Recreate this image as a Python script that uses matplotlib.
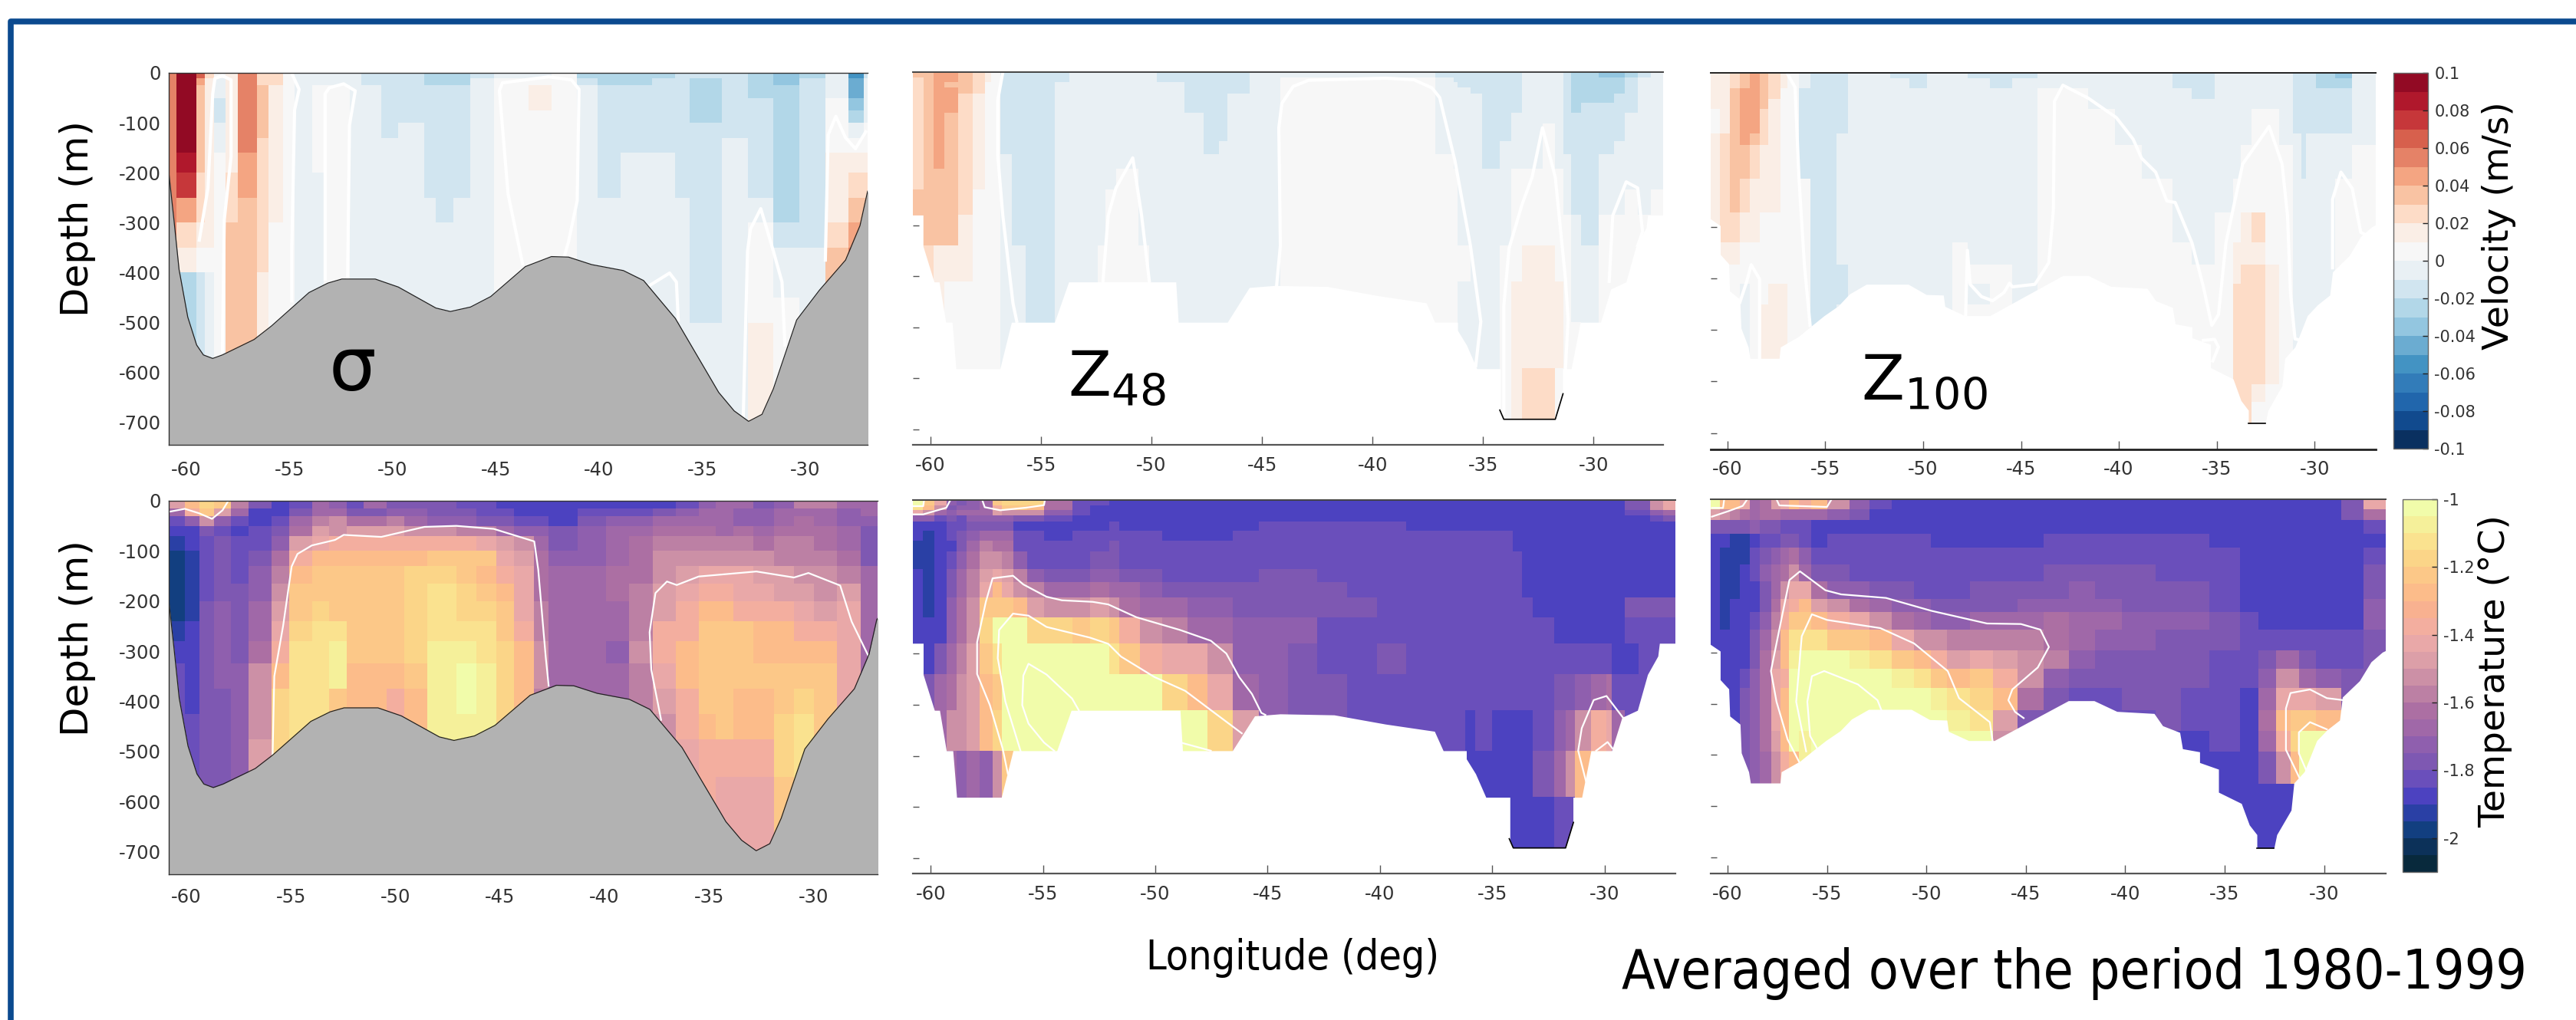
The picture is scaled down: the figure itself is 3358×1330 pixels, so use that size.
import numpy as np
import matplotlib
matplotlib.use('Agg')
import matplotlib.pyplot as plt
from matplotlib.colors import ListedColormap, BoundaryNorm
from matplotlib.cm import ScalarMappable
from matplotlib.lines import Line2D

W, H = 3358, 1330

# colour tables, lowest bin first
vel_colors = ['#0a3060', '#114a8e', '#2166ac', '#327cb9', '#4393c3', '#6bacd1', '#93c6e0', '#b2d7e8', '#d1e5f0', '#e9f0f4',
              '#f7f7f7', '#faeee6', '#fddcc7', '#f9c3a3', '#f4a582', '#e58267', '#d7604d', '#c6373a', '#b0182c', '#920a24']
temp_colors = ['#08293c', '#0c3159', '#123f80', '#2a40a5', '#4c42c0', '#6a4fbb', '#7e58b2', '#8f5fae', '#a068a8', '#ac6fa3', '#bc80a4',
               '#cc90a6', '#dc9fa8', '#e9a8a8', '#f3ae9f', '#f8b190', '#fcbc8a', '#fcc888', '#fbd588', '#fae28f', '#f5f09a', '#f1fcaa']
vel_ticks = [-0.1, -0.08, -0.06, -0.04, -0.02, 0, 0.02, 0.04, 0.06, 0.08, 0.1]
vel_labels = ['-0.1', '-0.08', '-0.06', '-0.04', '-0.02', '0', '0.02', '0.04', '0.06', '0.08', '0.1']
temp_ticks = [-2, -1.8, -1.6, -1.4, -1.2, -1]
temp_labels = ['-2', '-1.8', '-1.6', '-1.4', '-1.2', '-1']
lon_ticks = [-60, -55, -50, -45, -40, -35, -30]
lon_labels = ['-60', '-55', '-50', '-45', '-40', '-35', '-30']
depth_ticks = [0, -100, -200, -300, -400, -500, -600, -700]
depth_labels = ['0', '-100', '-200', '-300', '-400', '-500', '-600', '-700']
z_ticks = [-300, -400, -500, -600, -700]

# sea floor, sigma panels
floor_lon = [-60.9, -60.85, -60.6, -60.35, -59.93, -59.5, -59.17, -58.72, -58.25, -56.71, -55.87, -54.05, -53.13, -52.46, -50.84, -49.72, -47.9, -47.2,
             -46.22, -45.24, -43.56, -42.3, -41.47, -40.35, -38.81, -37.83, -36.29, -34.19, -33.44, -32.74, -32.09, -31.54, -30.41, -29.3, -28.04, -27.34, -26.97, -26.85]
floor_z = [199, 199, 294, 394, 489, 545, 565, 572, 565, 534, 507, 440, 421, 413, 413, 429, 471, 478,
           469, 448, 388, 368, 369, 384, 396, 416, 492, 640, 677, 698, 684, 633, 495, 435, 375, 306, 237, 230]

# lowest wet edge of the z48 grid
z48_lon = [-60.9, -60.34, -60.34, -59.84, -59.61, -59.31, -59.02, -58.85, -56.86, -56.34, -54.39, -53.75, -48.9, -48.79, -46.57, -45.58, -44.44, -42.04, -39.75, -37.57,
           -37.18, -36.15, -36.15, -35.74, -35.28, -34.21, -34.21, -34.07, -31.74, -31.4, -31.4, -31.01, -30.6, -29.68, -29.22, -28.53, -28.08, -27.62, -27.55, -26.8]
z48_z = [280, 280, 341, 411, 411, 490, 490, 581, 581, 490, 490, 411, 411, 490, 490, 422, 418, 420, 438, 452,
         490, 490, 506, 535, 581, 581, 664, 680, 680, 630, 581, 581, 490, 490, 425, 411, 341, 305, 280, 280]

# lowest wet edge of the z100 grid
z100_lon = [-60.9, -60.37, -60.37, -59.94, -59.89, -59.37, -59.31, -58.94, -58.85, -57.36, -57.3, -56.35, -55.78, -55.06, -54.34, -53.77, -52.91, -50.76, -49.84, -48.97, -48.89,
            -47.88, -46.59, -44.44, -42.86, -41.57, -40.42, -38.55, -38.12, -37.26, -37.12, -36.26, -36.26, -35.31, -35.31, -34.16, -33.76, -33.38, -33.38, -32.52, -32.38, -31.66,
            -31.52, -31, -30.37, -29.85, -29.22, -29.08, -28.22, -27.64, -27.07, -26.8]
z100_z = [283, 297, 353, 371, 424, 440, 496, 533, 555, 555, 533, 512, 494, 472, 453, 430, 411, 411, 431, 432, 454,
          472, 472, 427, 394, 394, 415, 419, 443, 456, 488, 494, 515, 528, 573, 595, 637, 656, 682, 682, 656, 608,
          555, 533, 472, 451, 432, 387, 355, 318, 299, 294]

# velocity in cm/s, each number is the lower edge of a 1 cm/s bin, one list per longitude column, top to bottom
vel_sigma_lon = [-60.85, -60.49, -59.51, -59.09, -58.67, -58.11, -57.49, -56.57, -56.01, -55.31, -54.75, -53.91, -53.35, -52.09, -51.53, -50.56, -49.72, -48.46, -47.9, -47.06, -46.22,
                 -45.1, -43.42, -42.3, -41.05, -40.07, -38.95, -37.41, -36.29, -35.59, -34.05, -32.79, -31.54, -30.28, -29.02, -27.9, -27.15, -26.85]
vel_sigma_z = [0, 10, 25, 50, 75, 100, 130, 160, 200, 250, 300, 350, 400, 450, 500, 750]
vel_sigma = [
    [5]*10,
    [9, 9, 9, 9, 9, 9, 9, 8, 7, 4, 2, 1, -3, -3, -3],
    [6, 4, 3, 3, 3, 3, 3, 3, 2, 2, 1, 0, -2, -2, -2],
    [2, 1, 1, 1, 1, 1, 1, 1, 1, 1, 1, 0, -1, -1, -1],
    [0, -1, -1, -2, -2, -1, -1, 0, 0],
    [1, 1, 1, 1, 1, 1, 1, 1, 2, 2, 3, 3, 3, 3, 3],
    [5, 5, 5, 5, 5, 5, 5, 4, 4, 3, 3, 3, 3, 3, 3],
    [2, 2, 3, 3, 3, 3, 2, 2, 2, 2, 2, 2, 1, 1, 1],
    [2, 2, 1, 1, 1, 1, 1, 1, 1, 1, 0],
    [0],
    [-1],
    [-1, -1, 0, 0, 0, 0, 0, 0, -1],
    [-1, -1, 0],
    [-1],
    [-2, -2, -1],
    [-2, -2, -2, -2, -2, -2, -1],
    [-2, -2, -2, -2, -2, -1],
    [-3, -3, -2, -2, -2, -2, -2, -2, -2, -1],
    [-3, -3, -2, -2, -2, -2, -2, -2, -2, -2, -1],
    [-3, -3, -2, -2, -2, -2, -2, -2, -2, -1],
    [-2, -1],
    [-1, 0],
    [-1, 0, 1, 1, 0],
    [0],
    [-3, -2, -1],
    [-3, -3, -2, -2, -2, -2, -2, -2, -2, -1],
    [-3, -3, -2, -2, -2, -2, -2, -1],
    [-3, -2, -2, -2, -2, -2, -2, -1],
    [-2, -2, -2, -2, -2, -2, -2, -2, -2, -1],
    [-2, -3, -3, -3, -3, -2, -2, -2, -2, -2, -2, -2, -2, -2, -1],
    [-2, -2, -2, -2, -2, -2, -1],
    [-3, -3, -3, -2, -2, -2, -2, -2, -2, -1, 0, 0, 0, 0, 1],
    [-4, -4, -3, -3, -3, -3, -3, -3, -3, -3, -2, -1, -1, 0],
    [-3, -2, -2, -2, -2, -2, -2, -2, -2, -2, -2, -1],
    [-1, -1, -1, 0, 0, 0, 0, 1, 1, 1, 2, 3],
    [-6, -5, -5, -4, -3, -1, 0, 1, 2, 3, 4, 5],
    [-2, -1, -1, -1, -1, 0, 0, 1, 2, 3, 4, 5],
]

vel_z48_lon = [-60.8, -60.33, -59.87, -59.36, -58.75, -58.08, -57.54, -57.27, -56.85, -56.33, -55.68, -54.38, -53.71, -52.43, -52.08, -51.61, -50.61, -50.1, -49.75, -48.52, -47.66, -46.96,
               -46.57, -45.57, -44.17, -37.15, -36.33, -36.15, -35.57, -35.03, -34.24, -33.71, -33.24, -32.31, -31.73, -31.38, -31.03, -30.57, -29.75, -29.06, -28.59, -28, -27.42, -26.8]
z48_edges = [0, 11, 20, 30, 42, 60, 80, 100, 135, 160, 190, 230, 280, 340, 410, 490, 580, 690]
vel_z48 = [
    [3, 2, 2, 2, 2, 2, 2, 2, 2, 2, 2, 3, 3, 2],
    [3, 3, 3, 3, 3, 3, 3, 3, 3, 3, 3, 3, 3, 2, 1, 0],
    [4, 4, 4, 4, 4, 4, 4, 4, 4, 4, 3, 3, 3, 1, 1, 0],
    [4, 4, 3, 4, 4, 4, 3, 3, 3, 3, 3, 3, 3, 1, 0],
    [3, 3, 3, 3, 2, 2, 2, 2, 2, 2, 2, 2, 1, 1, 0],
    [2, 2, 2, 2, 1, 1, 1, 1, 1, 1, 1, 0],
    [1, 1, 0],
    [0],
    [-2]*9 + [-1],
    [-2]*13 + [-1],
    [-2]*15,
    [-2, -2, -1],
    [-1],
    [-1]*13 + [0],
    [-1]*11 + [0],
    [-1]*10 + [0],
    [-1]*13 + [0],
    [-1],
    [-2, -2, -1],
    [-2]*6 + [-1],
    [-2]*9 + [-1],
    [-2]*8 + [-1],
    [-2]*4 + [-1],
    [-1],
    [-1, 0],
    [-2] + [-1]*8 + [0],
    [-2, -2] + [-1]*8 + [0],
    [-2, -2, -2] + [-1]*10 + [0, -1],
    [-2]*4 + [-1]*11,
    [-2]*10 + [-1]*6,
    [-2]*8 + [-1]*5 + [0],
    [-2]*6 + [-1]*4 + [0]*4 + [1, 1, 1],
    [-1]*10 + [0]*3 + [1, 1, 1, 2],
    [-1]*7 + [0]*6 + [1, 1, 1, 2],
    [-1]*10 + [0]*4 + [1, 1, 0],
    [-2]*9 + [-1]*3 + [0],
    [-3]*6 + [-2]*6 + [-1]*3 + [0],
    [-3]*5 + [-2]*8 + [-1],
    [-4, -3, -3, -3, -3, -2, -2, -2, -2, -1, -1, -1, 0],
    [-4, -3, -3, -3, -2, -2, -2, -2, -1, -1, -1, -1, 0],
    [-3] + [-2]*5 + [-1]*5 + [0],
    [-2] + [-1]*11 + [0],
    [-1]*11 + [0],
]

vel_z100_lon = [-60.86, -60.37, -59.89, -59.37, -58.85, -58.36, -57.93, -57.3, -56.93, -56.35, -55.78, -54.43, -53.86, -51.67, -50.7, -49.81, -48.52, -47.74, -46.59, -45.44, -44.15,
                -41.57, -40.19, -38.84, -37.26, -36.26, -35.11, -34.16, -33.76, -33.24, -32.5, -31.81, -31.09, -30.66, -30.43, -29.94, -28.93, -28.07, -26.8]
vel_z100_z = [0, 11, 30, 50, 70, 118, 140, 205, 272, 330, 372, 410, 450, 495, 535, 555, 605, 640, 690]
vel_z100 = [
    [1, 1, 1, 1, 0, 1, 1, 1, 1],
    [1, 1, 1, 1, 1, 2, 2, 2, 2, 1, 0],
    [2, 2, 3, 3, 3, 3, 3, 3, 2, 1, 0, 0, -1],
    [3, 3, 4, 4, 4, 4, 3, 2, 1, 0, 0, -1],
    [4, 4, 4, 4, 4, 3, 2, 1, 1, 0],
    [3, 3, 3, 3, 2, 2, 1, 1, 0, 0, 0, 0, 1],
    [2, 2, 2, 1, 1, 1, 1, 1, 0, 0, 0, 1],
    [1, 1, 0, 0, 0, 0, 0, 0, 0, 0, 0, 1],
    [0],
    [-1, -1, -2, -2, -2, -2, -2, 0],
    [-2]*13,
    [-2]*5 + [-1]*5 + [-2, -2, -1],
    [-1],
    [-2, -1],
    [-2, -2, -1],
    [-1],
    [-1]*9 + [0],
    [-2] + [-1]*9 + [0, -1, 0],
    [-2, -2] + [-1]*8 + [0],
    [-2, -1],
    [-1, -1, 0],
    [-1]*4 + [0],
    [-1]*6 + [0],
    [-1]*7 + [0],
    [-2, -2, -1, -1, -1, -1, -1, -1, -1, 0],
    [-2, -2, -2, -1, -1, -1, -1, -1, -1, -1, 0],
    [-1]*8 + [0],
    [-1]*7 + [0, 0, 1, 1, 2, 2, 2, 2, 2, 2],
    [-1]*6 + [0, 0, 1, 1, 2, 2, 2, 2, 2, 2, 2, 2],
    [-1]*4 + [0, 0, 0, 0, 2, 1, 2, 2, 2, 2, 2, 2, 1, 0],
    [-1]*4 + [0]*6 + [1, 1, 1, 1, 1, 1, 0],
    [-1]*6 + [0],
    [-2]*5 + [-1],
    [-2]*7 + [-1],
    [-2]*5 + [-1],
    [-3, -3, -2, -2, -2, -1],
    [-4, -3, -2, -2, -2, -1, -1, 0],
    [-1]*6 + [0],
]

# temperature, minus hundredths of a degree, each number is the cold edge of a 0.05 bin
temp_sigma_lon = [-60.85, -60.08, -59.39, -58.7, -57.87, -57.04, -55.93, -55.1, -54, -53.17, -52.34, -51.51, -50.41, -49.58, -48.47, -47.09, -46.13, -45.16, -44.33, -43.36,
                  -42.67, -41.29, -39.91, -38.81, -37.7, -36.6, -35.49, -34.66, -33.83, -32.87, -31.9, -30.93, -29.97, -28.86, -27.75, -26.85]
temp_sigma_z = [0, 16, 31, 50, 70, 100, 130, 165, 200, 240, 280, 325, 375, 425, 475, 550, 750]
temp_sigma = [
    [150, 170, 185, 190, 195, 200, 200, 200, 200, 195, 190, 185],
    [130, 140, 175, 190, 190, 195, 195, 195, 195, 190, 190, 190, 190, 185, 185, 180],
    [120, 125, 155, 180, 185, 185, 185, 185, 180],
    [125, 150, 175, 185, 180, 180, 180, 180, 175, 175, 175, 175, 180],
    [160, 170, 185, 190, 185, 185, 185, 180, 180, 180, 180, 175],
    [180, 190, 190, 185, 185, 180, 175, 175, 170, 170, 165, 155, 155, 155, 150],
    [190, 190, 185, 180, 175, 165, 160, 155, 150, 145, 140, 130, 120],
    [185, 180, 170, 165, 150, 140, 130, 125, 125, 120, 115],
    [170, 170, 160, 150, 145, 130, 125, 125, 120, 115],
    [175, 170, 155, 155, 140, 130, 125, 125, 125, 115, 110, 110, 125],
    [185, 180, 165, 150, 140, 130, 125, 125, 125, 125, 125, 130, 130, 140],
    [170, 180, 165, 150, 140, 130, 125, 125, 125, 125, 125, 130],
    [180, 175, 160, 150, 140, 130, 125, 125, 125, 125, 125, 130, 140],
    [180, 175, 170, 155, 140, 130, 120, 120, 120, 120, 120, 125, 130],
    [180, 180, 175, 155, 140, 125, 120, 115, 115, 115, 110],
    [185, 180, 175, 160, 140, 125, 125, 120, 120, 115, 110, 105, 105, 110],
    [185, 185, 180, 160, 145, 125, 130, 125, 120, 115, 115, 110],
    [190, 185, 180, 170, 150, 145, 140, 130, 125, 125, 120],
    [190, 190, 185, 175, 155, 150, 145, 145, 145, 140, 130, 130, 130, 140],
    [190, 190, 185, 175, 170, 165, 165, 165, 160, 160, 155, 155, 160],
    [190, 190, 190, 180, 180, 175, 170],
    [190, 185, 180, 175, 175, 175, 170],
    [190, 185, 175, 170, 170, 170, 165, 165, 170, 170, 175, 170],
    [190, 185, 175, 170, 165, 165, 165, 160, 160, 160, 155, 160],
    [190, 180, 170, 165, 160, 155, 155, 150, 150, 140, 140, 145, 150, 155],
    [185, 175, 170, 165, 160, 155, 150, 145, 140, 140, 130, 130, 140, 140, 145],
    [175, 170, 170, 165, 160, 155, 145, 140, 130, 125, 125, 125, 125, 130, 140],
    [170, 170, 170, 170, 160, 155, 145, 140, 130, 125, 125, 125, 125, 125, 140, 145],
    [170, 175, 175, 165, 160, 155, 145, 145, 140, 125, 125, 125, 130, 130, 140, 145],
    [180, 175, 175, 170, 165, 155, 150, 145, 140, 130, 130, 125, 130, 130, 140, 145],
    [175, 170, 170, 165, 160, 160, 150, 150, 140, 130, 130, 125, 125, 120, 120, 125],
    [160, 170, 165, 165, 160, 160, 155, 150, 145, 140, 130, 125, 120, 115],
    [160, 170, 170, 165, 165, 160, 155, 155, 150, 140, 130, 125],
    [170, 175, 175, 170, 170, 165, 160, 150, 145],
    [170, 170, 175, 180, 180, 180, 170],
]

temp_z48_lon = [-60.8, -60.34, -59.84, -59.31, -58.85, -58.4, -57.83, -57.25, -56.84, -56.34, -55.7, -54.96, -53.71, -52.91, -52.06, -51.6, -50.69, -49.7, -48.56, -47.69, -46.57, -45.4, -44.1,
                -42.79, -41.46, -40.14, -38.83, -37.12, -36.2, -35.74, -35.01, -34.09, -33.68, -33.18, -32.24, -31.74, -31.33, -30.59, -29.91, -29.68, -29.11, -28.49, -27.96, -27.39, -26.8]
temp_z48 = [
    [105, 115, 145, 175, 190, 190, 195, 195, 190],
    [125, 130, 155, 175, 190, 195, 195, 195, 195, 195, 195, 190, 190, 180],
    [145, 155, 170, 185, 190, 190, 190, 190, 190, 190, 190, 190, 180, 170],
    [175, 180, 175, 180, 185, 185, 190, 185, 180, 180, 175, 175, 170, 165, 155, 170],
    [180, 175, 170, 185, 185, 180, 180, 175, 170, 170, 165, 165, 160, 155, 155, 175],
    [175, 175, 170, 175, 180, 175, 170, 165, 160, 160, 155, 155, 150, 150, 150, 170],
    [170, 170, 170, 175, 180, 170, 160, 155, 150, 145, 125, 120, 125, 130, 130, 175],
    [125, 140, 150, 175, 180, 170, 165, 155, 145, 130, 125, 105, 115, 125, 120, 155],
    [120, 125, 155, 175, 180, 170, 165, 160, 150, 145, 125, 105, 105, 105, 105, 125],
    [120, 125, 155, 180, 190, 185, 185, 175, 160, 155, 130, 105],
    [120, 130, 155, 180, 190, 185, 185, 185, 175, 160, 150, 120, 105],
    [165, 165, 175, 185, 190, 190, 185, 185, 180, 170, 155, 120, 105],
    [185, 185, 185, 190, 190, 185, 185, 185, 180, 170, 155, 125, 105],
    [185, 190, 190, 190, 190, 185, 185, 180, 175, 165, 150, 120, 105],
    [190, 190, 190, 190, 185, 185, 180, 180, 175, 170, 155, 125, 115, 105],
    [190, 190, 190, 190, 190, 185, 185, 185, 180, 170, 165, 140, 125, 105],
    [190, 190, 190, 190, 190, 185, 185, 185, 180, 175, 170, 155, 140, 105],
    [190, 190, 190, 190, 190, 190, 185, 185, 185, 180, 170, 160, 145, 120, 105],
    [190, 190, 190, 190, 190, 190, 185, 185, 185, 180, 175, 170, 145, 130, 105],
    [190, 190, 190, 190, 190, 190, 185, 185, 185, 180, 175, 170, 155, 145, 120],
    [190, 190, 190, 190, 190, 185, 185, 185, 185, 180, 180, 175, 175, 170, 150],
    [190, 190, 190, 190, 185, 185, 185, 185, 180, 180, 180, 175, 175, 175],
    [190, 190, 190, 190, 185, 185, 185, 185, 180, 180, 180, 175, 180],
    [190, 190, 190, 190, 185, 185, 185, 185, 185, 180, 180, 185, 185, 180],
    [190, 190, 190, 190, 185, 185, 185, 185, 185, 185, 180, 185],
    [190, 190, 190, 190, 185, 185, 185, 185, 185, 185, 185, 185, 180, 185],
    [190]*5 + [185],
    [190]*5 + [185],
    [190]*5 + [185]*9 + [190],
    [190]*5 + [185]*10 + [190],
    [190]*5 + [185]*9 + [190],
    [190]*7 + [185]*7 + [190],
    [190]*10 + [185]*4 + [190],
    [190]*11 + [185, 185, 185, 185, 180, 190],
    [190]*12 + [185, 180, 175, 170, 185],
    [190]*12 + [185, 180, 170, 155, 185],
    [190]*12 + [185, 175, 155, 130],
    [190]*12 + [185, 170, 140, 130],
    [190]*12 + [185, 165, 145],
    [190]*12 + [190, 185, 170],
    [180, 180, 185, 190, 190, 190, 190, 190, 190, 190, 180, 185, 190, 185],
    [180, 180, 185, 190, 190, 190, 190, 190, 190, 190, 180, 185],
    [155, 155, 175, 185, 190, 190, 190, 190, 190, 190, 180, 185],
    [145, 145, 170, 180, 190, 190, 190, 190, 190, 190, 180, 185],
]

temp_z100_lon = [-60.85, -60.37, -59.89, -59.38, -58.87, -58.39, -57.82, -57.34, -56.92, -56.41, -55.79, -55, -53.87, -52.88, -51.75, -50.62, -49.77, -48.98, -47.8, -46.67, -45.4, -44.12,
                 -42.85, -41.53, -40.17, -38.47, -37.2, -35.79, -34.24, -33.31, -32.4, -31.69, -31.27, -30.42, -29.15, -28.02, -26.8]
temp_z100_z = [0, 20, 40, 67, 94, 128, 161, 195, 221, 255, 295, 332, 369, 413, 453, 493, 557, 690]
temp_z100 = [
    [105, 150, 180, 190],
    [130, 155, 180, 190, 195, 195, 195, 195, 195, 190],
    [130, 160, 180, 195, 195, 195, 195, 190],
    [145, 165, 180, 195, 195, 190, 190, 190, 190, 190, 190, 185, 180, 180, 180, 180, 190],
    [170, 170, 175, 190, 185, 185, 190, 190, 185, 180, 180, 175, 175, 175, 175, 175, 190],
    [165, 165, 180, 185, 180, 175, 180, 180, 175, 170, 165, 165, 165, 165, 165, 170, 190],
    [150, 165, 180, 185, 175, 170, 170, 165, 160, 155, 150, 145, 145, 145, 150, 155, 190],
    [145, 170, 185, 180, 170, 165, 155, 145, 140, 130, 130, 140, 130, 130, 130, 140, 190],
    [130, 170, 185, 180, 165, 155, 145, 140, 125, 115, 110, 105, 105, 105, 105, 130],
    [140, 170, 185, 185, 175, 170, 145, 130, 125, 115, 105, 105, 105, 105, 110],
    [130, 170, 190, 190, 185, 180, 165, 150, 130, 115, 105],
    [155, 175, 190, 185, 185, 180, 175, 155, 140, 125, 105],
    [175, 180, 190, 185, 185, 185, 175, 165, 145, 125, 110, 105],
    [185, 190, 190, 185, 185, 185, 180, 170, 155, 130, 115, 105],
    [190, 190, 190, 185, 185, 185, 180, 175, 165, 145, 125, 110, 105],
    [190, 190, 190, 185, 185, 185, 185, 175, 170, 155, 130, 115, 105],
    [190, 190, 190, 190, 185, 185, 185, 180, 175, 155, 140, 125, 110, 105],
    [190, 190, 190, 190, 185, 185, 185, 180, 175, 160, 150, 130, 115, 110, 105],
    [190, 190, 190, 190, 185, 185, 180, 180, 170, 160, 145, 125, 120, 115, 105],
    [190, 190, 190, 190, 185, 185, 180, 180, 170, 160, 150, 140, 130, 150, 155],
    [190, 190, 190, 190, 185, 185, 180, 175, 170, 160, 155, 155, 165, 180],
    [190, 190, 190, 185, 185, 180, 180, 175, 165, 165, 160, 175, 180],
    [190, 190, 190, 185, 185, 180, 175, 175, 170, 170, 175, 180, 185],
    [190, 190, 190, 185, 185, 180, 180, 175, 170, 175, 180, 180, 185],
    [190, 190, 190, 185, 185, 180, 180, 180, 175, 175, 180, 180, 180, 185],
    [190, 190, 190, 185, 185, 185, 180, 180, 175, 180, 180, 180, 180, 180, 190],
    [190, 190, 190, 185, 185, 185, 180, 180, 175, 180, 180, 180, 185, 185, 190],
    [190, 190, 190, 190, 185, 185, 185, 185, 180, 180, 185, 185, 185, 185, 185, 190],
    [190]*8 + [185, 185, 185, 185, 190, 190, 190, 190],
    [190]*9 + [185, 180, 175, 170, 165, 170, 180, 190],
    [190]*9 + [185, 170, 155, 145, 130, 140, 155, 190],
    [190]*9 + [185, 170, 155, 145, 125, 120, 130, 190],
    [190]*9 + [185, 180, 170, 145, 125, 105],
    [190]*9 + [185, 185, 175, 150, 130, 105],
    [180, 180, 190, 190, 190, 190, 190, 190, 190, 185, 185, 180],
    [145, 165, 185, 190, 185, 180, 180, 175, 175, 180],
]

# zero velocity lines, (lon, depth)
vel_sigma_lines = [
    ([-59.37, -58.95, -58.72, -58.61, -58.25, -57.83, -57.83, -58.16, -58.25], [335, 231, 42, 11, 6, 14, 168, 294, 558]),
    ([-54.89, -54.53, -54.75, -54.89, -54.89], [1, 33, 74, 357, 457]),
    ([-53.27, -53.27, -53.07, -52.37, -51.81, -52.09, -52.18], [413, 42, 30, 22, 36, 105, 413]),
    ([-43.7, -44.4, -44.82, -44.68, -42.44, -41.33, -40.96, -41.05, -41.47, -41.66], [382, 243, 36, 20, 8, 14, 33, 256, 338, 366]),
    ([-37.55, -36.57, -36.24, -36.15], [426, 401, 419, 495]),
    ([-33, -32.79, -32.65, -32.15, -31.54, -31.12, -30.98], [690, 357, 313, 272, 357, 419, 545]),
    ([-29.02, -28.88, -28.51, -28.04, -27.56, -27.06], [375, 124, 87, 130, 152, 118]),
]
vel_z48_lines = [
    ([-56.73, -56.96, -56.96, -56.73, -56.27, -56.1], [0, 55, 163, 281, 453, 488]),
    ([-52.2, -51.96, -51.61, -50.85, -50.45, -50.1], [410, 281, 227, 168, 281, 410]),
    ([-44.34, -44.17, -44.24, -44.1, -43.59, -42.89, -39.4, -38.13, -37.31, -36.96, -36.27, -35.57, -35.1, -35.33],
     [418, 340, 109, 61, 28, 16, 12, 15, 31, 50, 174, 340, 489, 575]),
    ([-34.06, -34.06, -33.82, -33.24, -32.78, -32.31, -31.73, -31.27, -31.15, -31.27], [668, 459, 345, 260, 206, 109, 206, 405, 485, 580]),
    ([-29.29, -29.13, -28.52, -28, -27.78, -28], [410, 281, 215, 227, 313, 340]),
]
vel_z100_lines = [
    ([-56.93, -56.55, -56.35, -56.07, -55.78], [2, 28, 204, 374, 491]),
    ([-59.37, -59.02, -58.79, -58.36, -58.36], [446, 406, 373, 401, 555]),
    ([-47.83, -47.74, -47.6, -47.02, -46.45, -45.87, -45.59, -45.44, -44.29, -43.58, -43.35, -43.29, -42.86, -41.57, -40.13, -39.27, -38.84, -38.12, -37.55, -37.12, -36.26, -35.68, -35.25,
      -34.91, -34.53, -33.67, -32.32, -31.66, -31.38, -31.23, -31, -30.71],
     [470, 345, 411, 435, 443, 427, 409, 416, 411, 369, 268, 55, 24, 49, 87, 129, 166, 193, 249, 252, 331, 416, 491,
      470, 331, 177, 104, 177, 278, 427, 517, 520]),
    ([-35.68, -35.11, -34.91, -35.2], [520, 518, 533, 560]),
    ([-29.08, -29.08, -28.65, -28.07, -27.64, -27.36], [379, 246, 193, 225, 310, 315]),
]

# -1.4 degree lines
temp_sigma_lines = [
    ([-60.85, -60.08, -59.39, -58.78, -58.28, -58], [22, 16, 25, 36, 19, 0]),
    ([-55.88, -55.8, -55.38, -54.97, -54.69, -54, -52.89, -52.48, -50.68, -48.61, -47.09, -45.3, -43.36, -43.17, -42.81, -42.67],
     [506, 350, 250, 131, 106, 89, 78, 68, 72, 52, 50, 56, 81, 137, 312, 369]),
    ([-37.29, -37.76, -37.84, -37.56, -37.01, -36.54, -35.49, -32.73, -30.93, -30.24, -28.72, -28.17, -27.34], [437, 337, 262, 184, 161, 168, 151, 141, 153, 144, 169, 241, 312]),
]
temp_z48_lines = [
    ([-60.8, -60.34, -59.31, -59.13], [28, 28, 15, 0]),
    ([-60.8, -60.34, -60.3], [12, 12, 0]),
    ([-57.71, -57.6, -56.91, -55.77, -54.96, -54.92], [0, 14, 20, 15, 10, 0]),
    ([-56.57, -56.8, -57.37, -57.94, -57.94, -57.55, -57.25, -56.34, -55.88, -54.85, -54.16, -52.79, -52.1, -50.85, -48.9, -47.53, -46.84, -46.27, -45.7, -45.28, -45.1],
     [535, 486, 401, 340, 278, 199, 153, 148, 165, 189, 196, 199, 204, 229, 254, 275, 300, 346, 379, 416, 420]),
    ([-56, -56.68, -57.02, -56.96, -56.34, -55.65, -54.85, -52.91, -52.1, -51.53, -50.04, -48.67, -47.64, -46.15],
     [491, 394, 309, 254, 222, 226, 248, 269, 281, 306, 346, 373, 407, 456]),
    ([-54.51, -54.96, -55.65, -55.93, -55.88, -55.65, -54.85, -53.71, -53.41], [490, 474, 437, 401, 343, 320, 341, 388, 411]),
    ([-48.79, -47.53], [475, 490]),
    ([-30.82, -31.17, -31.01, -30.48, -29.91, -29.18], [550, 490, 446, 391, 383, 425]),
    ([-30.37, -29.86, -29.63], [490, 473, 486]),
]
temp_z100_lines = [
    ([-60.79, -59.94, -59.24, -59.01], [34, 23, 13, 0]),
    ([-60.79, -60.23, -60.17], [17, 17, 0]),
    ([-57.54, -57.4, -55, -54.77], [0, 12, 15, 0]),
    ([-56.41, -56.98, -57.54, -57.82, -57.4, -56.89, -56.36, -55.08, -54.29, -52.03, -49.77, -46.95, -45.25, -44.27, -43.84, -44.4, -45.68, -45.88, -45.54, -45.11],
     [513, 470, 396, 336, 255, 158, 141, 178, 186, 193, 218, 243, 244, 255, 289, 329, 372, 393, 416, 428]),
    ([-56.05, -56.55, -56.27, -55.76, -55, -52.32, -50.62, -48.93, -48.36, -46.81, -46.67], [493, 396, 268, 225, 236, 252, 282, 336, 389, 436, 473]),
    ([-55.42, -55.85, -55.99, -55.76, -55.14, -53.45, -52.46, -52.26], [493, 463, 396, 346, 336, 362, 393, 413]),
    ([-31.13, -31.92, -31.92, -31.69, -30.71, -29.86, -29.01], [554, 490, 409, 379, 372, 389, 393]),
    ([-30.9, -31.27, -31.27, -30.71, -29.86], [530, 497, 456, 436, 450]),
]

# short black bits of the floor
z48_trench_lon = [-34.24, -34.06, -31.73, -31.38]
z48_trench_z = [662, 680, 680, 630]
z100_trench_lon = [-33.38, -32.52]
z100_trench_z = [682, 682]

plt.rcParams['font.family'] = 'DejaVu Sans'
plt.rcParams['axes.unicode_minus'] = False
fig = plt.figure(figsize=(W / 100, H / 100), dpi=100)


def box(left, top, right, bottom):
    return fig.add_axes([left / W, 1 - bottom / H, (right - left) / W, (bottom - top) / H])


def grid(cols, nrows):
    # short columns keep their last value down to the floor, the mask hides the rest
    return np.array([(c + c[-1:] * (nrows - len(c)))[:nrows] for c in cols], dtype=float).T


vel_levels = np.arange(-10, 11) / 100
vel_norm = BoundaryNorm(vel_levels, 20)
vel_cmap = ListedColormap(vel_colors)
temp_levels = -np.arange(210, 95, -5) / 100
temp_norm = BoundaryNorm(temp_levels, 22)
temp_cmap = ListedColormap(temp_colors)


def panel(pos, lon, z, cols, kind, xlim, ymin, lines, lw):
    ax = box(*pos)
    nrows = len(z) - 1
    if kind == 'vel':
        vals = grid(cols, nrows) / 100
        ax.pcolormesh(lon, -np.array(z), vals, cmap=vel_cmap, norm=vel_norm, zorder=1)
    else:
        vals = -grid(cols, nrows) / 100
        ax.pcolormesh(lon, -np.array(z), vals, cmap=temp_cmap, norm=temp_norm, zorder=1)
    for lx, lz in lines:
        ax.plot(lx, -np.array(lz), color='white', lw=lw, zorder=1.6, solid_joinstyle='round')
    ax.set_xlim(xlim)
    ax.set_ylim(ymin, 0)
    ax.set_xticks(lon_ticks)
    ax.set_xticklabels(lon_labels, fontsize=17.5, color='#333333')
    return ax


def sigma_style(ax, pad):
    ax.fill_between(floor_lon, -np.array(floor_z), -800, color='#b2b2b2', lw=0, zorder=2)
    ax.plot(floor_lon, -np.array(floor_z), color='#222222', lw=0.9, zorder=2.2)
    ax.set_yticks(depth_ticks)
    ax.set_yticklabels(depth_labels, fontsize=17.5, color='#333333')
    ax.tick_params(axis='both', length=0)
    ax.tick_params(axis='x', pad=pad)
    ax.tick_params(axis='y', pad=7)
    for s in ax.spines.values():
        s.set_linewidth(1.0)
        s.set_color('#333333')
        s.set_zorder(3)
    ax.spines['right'].set_visible(False)


def z_style(ax, flon, fz, tlon, tz, pad):
    ax.fill_between(flon, -np.array(fz), -800, color='white', lw=0, zorder=1.2)
    ax.plot(tlon, -np.array(tz), color='black', lw=1.2, zorder=2.2)
    ax.set_yticks(z_ticks)
    ax.set_yticklabels([])
    ax.tick_params(axis='y', direction='in', length=6, width=1, color='#555555')
    ax.tick_params(axis='x', direction='in', length=8, width=1, color='#555555', pad=pad)
    ax.spines['left'].set_visible(False)
    ax.spines['right'].set_visible(False)
    ax.spines['top'].set_color('#444444')
    ax.spines['top'].set_linewidth(1.4)
    ax.spines['bottom'].set_color('#555555')
    ax.spines['bottom'].set_linewidth(1.6)


ax1 = panel((220, 95, 1131, 580), vel_sigma_lon, vel_sigma_z, vel_sigma, 'vel', (-60.85, -26.97), -745, vel_sigma_lines, 3)
sigma_style(ax1, 15)
ax2 = panel((1190, 94, 2168, 580), vel_z48_lon, z48_edges, vel_z48, 'vel', (-60.8, -26.85), -730, vel_z48_lines, 3)
z_style(ax2, z48_lon, z48_z, z48_trench_lon, z48_trench_z, 11)
ax3 = panel((2230, 95, 3097, 586), vel_z100_lon, vel_z100_z, vel_z100, 'vel', (-60.86, -26.87), -732, vel_z100_lines, 3)
z_style(ax3, z100_lon, z100_z, z100_trench_lon, z100_trench_z, 10)
ax3.spines['bottom'].set_color('#222222')
ax3.spines['bottom'].set_linewidth(2)
ax3.spines['top'].set_color('#222222')
ax4 = panel((220, 653, 1144, 1140), temp_sigma_lon, temp_sigma_z, temp_sigma, 'temp', (-60.85, -26.93), -745, temp_sigma_lines, 1.6)
sigma_style(ax4, 13)
ax5 = panel((1190, 652, 2184, 1139), temp_z48_lon, z48_edges, temp_z48, 'temp', (-60.8, -26.84), -730, temp_z48_lines, 1.6)
z_style(ax5, z48_lon, z48_z, z48_trench_lon, z48_trench_z, 11)
ax6 = panel((2230, 651, 3110, 1139), temp_z100_lon, temp_z100_z, temp_z100, 'temp', (-60.85, -26.9), -732, temp_z100_lines, 1.6)
z_style(ax6, z100_lon, z100_z, z100_trench_lon, z100_trench_z, 11)

# colour bars
cax1 = box(3120, 95, 3165, 585)
cb1 = fig.colorbar(ScalarMappable(norm=vel_norm, cmap=vel_cmap), cax=cax1, ticks=vel_ticks, spacing='uniform')
cb1.ax.set_yticklabels(vel_labels, fontsize=15, color='#333333')
cax2 = box(3132, 651, 3177, 1137)
cb2 = fig.colorbar(ScalarMappable(norm=temp_norm, cmap=temp_cmap), cax=cax2, ticks=temp_ticks, spacing='uniform')
cb2.ax.set_yticklabels(temp_labels, fontsize=15, color='#333333')
for cb in (cb1, cb2):
    cb.ax.minorticks_off()
    cb.ax.tick_params(direction='in', length=5, width=1, color='#222222', pad=6)
    cb.outline.set_edgecolor('#666666')
    cb.outline.set_linewidth(1)

# texts
def label(x, y, s, size, **kw):
    fig.text(x / W, 1 - y / H, s, fontsize=size, ha='center', va='center', color='black', **kw)


label(101, 285, 'Depth (m)', 36, rotation=90)
label(101, 832, 'Depth (m)', 36, rotation=90)
label(3257, 294, 'Velocity (m/s)', 34, rotation=90)
label(3253, 875, 'Temperature (°C)', 34, rotation=90)
label(1685, 1249, 'Longitude (deg)', 38.5, fontstretch='condensed')
label(2704, 1269, 'Averaged over the period 1980-1999', 51, fontstretch='condensed')
label(459, 482, 'σ', 70)
fig.text(1392 / W, 1 - 515 / H, r'$\mathregular{Z_{48}}$', fontsize=59, ha='left', va='baseline')
fig.text(2426 / W, 1 - 521 / H, r'$\mathregular{Z_{100}}$', fontsize=59, ha='left', va='baseline')

# page frame
fig.add_artist(Line2D([14 / W, 14 / W, 1], [0, 1 - 28 / H, 1 - 28 / H], color='#0b4a8f', lw=5.5, solid_joinstyle='round'))

fig.savefig('out.png', dpi=100, facecolor='white')
